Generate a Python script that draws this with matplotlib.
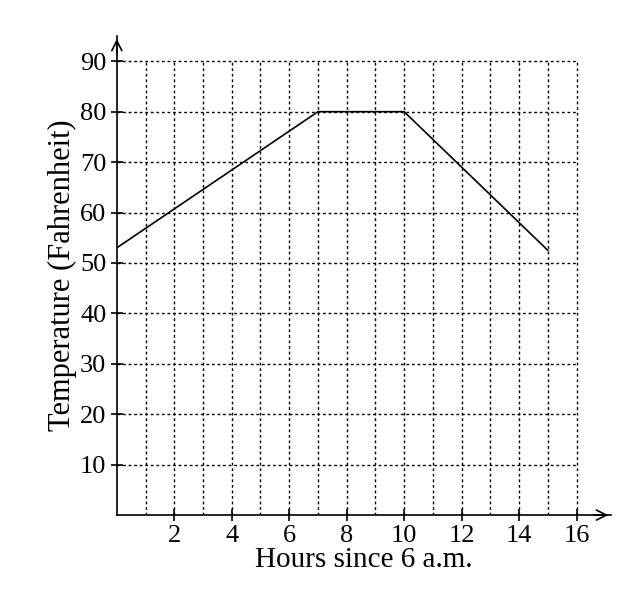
import matplotlib
matplotlib.use("Agg")
import matplotlib.pyplot as plt

hours = [0, 7, 10, 15]
temps = [53, 80, 80, 52.5]
xticks = [2, 4, 6, 8, 10, 12, 14, 16]
yticks = [10, 20, 30, 40, 50, 60, 70, 80, 90]

plt.rcParams['font.family'] = ['Liberation Serif', 'DejaVu Serif']
fig = plt.figure(figsize=(6.28, 6.11), dpi=100)
ax = fig.add_axes([0.186, 0.157, 0.787, 0.784])
ax.set_xlim(0, 17.2)
ax.set_ylim(0, 95)
ax.vlines(range(1, 17), 0, 90, colors='black', linestyles=(0, (2, 2)), lw=1)
ax.hlines(yticks, 0, 16, colors='black', linestyles=(0, (2, 2)), lw=1)
ax.plot(hours, temps, color='black', lw=1.2)
for s in ['top', 'right']:
    ax.spines[s].set_visible(False)
for s in ['left', 'bottom']:
    ax.spines[s].set_linewidth(1.2)
ax.annotate('', xy=(17.2, 0), xytext=(16.5, 0), xycoords='data',
            arrowprops=dict(arrowstyle='->', lw=1.2, mutation_scale=18), annotation_clip=False)
ax.annotate('', xy=(0, 95), xytext=(0, 91), xycoords='data',
            arrowprops=dict(arrowstyle='->', lw=1.2, mutation_scale=18), annotation_clip=False)
ax.set_xticks(xticks)
ax.set_yticks(yticks)
ax.tick_params(direction='inout', length=8, width=1.2, labelsize=19)
ax.set_xlabel('Hours since 6 a.m.', fontsize=21, labelpad=0)
ax.set_ylabel('Temperature (Fahrenheit)', fontsize=22, labelpad=2)
fig.savefig('out.png', dpi=100)
